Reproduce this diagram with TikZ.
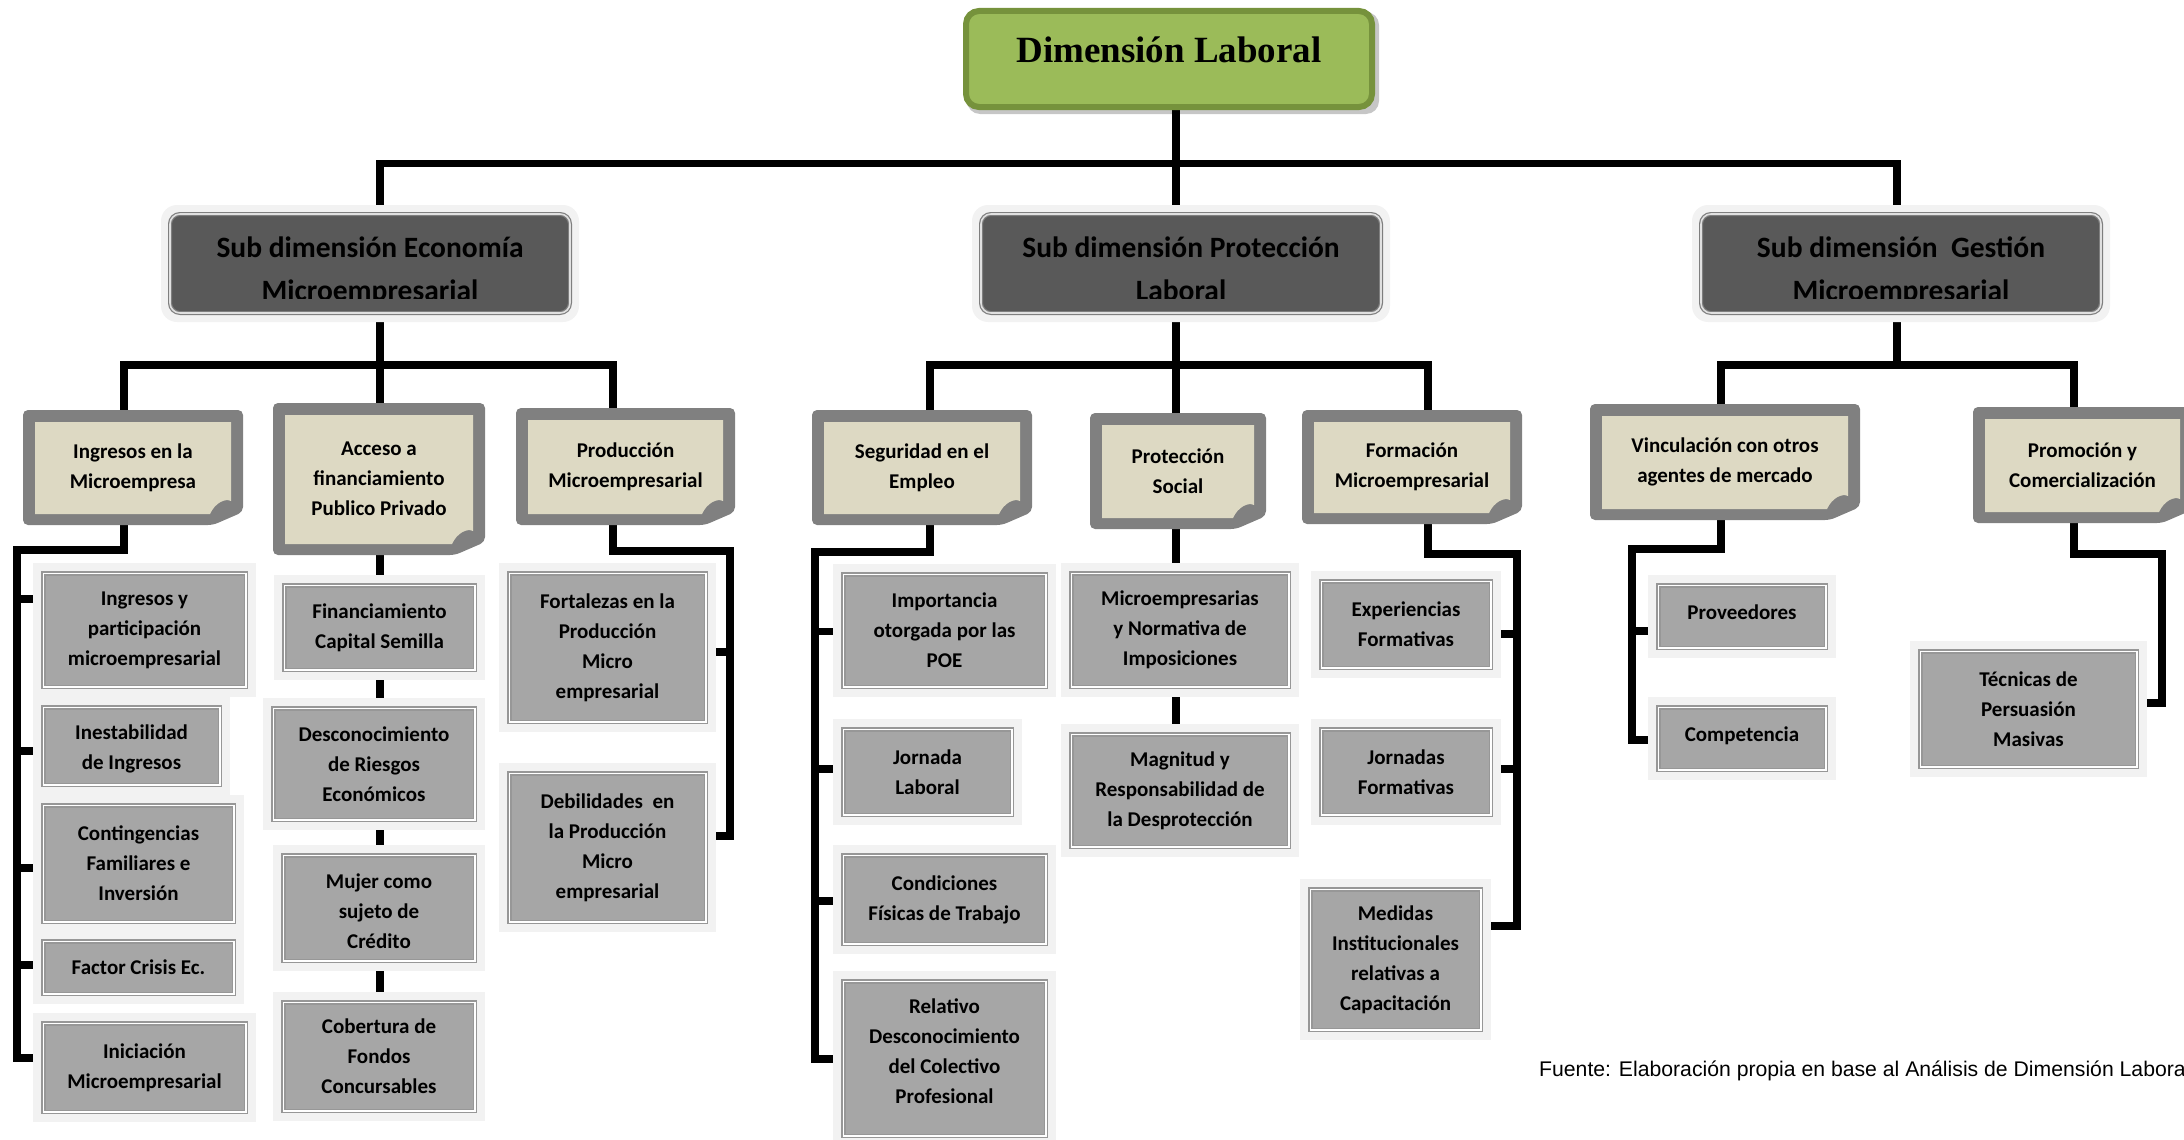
\documentclass[tikz,border=0pt]{standalone}
\usepackage{fontspec}
\setmainfont{Carlito}
\newfontfamily\titlefont{Liberation Serif}
\newfontfamily\sourcefont{Liberation Sans}
\usetikzlibrary{calc,backgrounds}

\definecolor{halo}{HTML}{F2F2F2}
\definecolor{leaffill}{HTML}{A6A6A6}
\definecolor{leafline}{HTML}{979797}
\definecolor{subfill}{HTML}{595959}
\definecolor{subline}{HTML}{7F7F7F}
\definecolor{notegray}{HTML}{808080}
\definecolor{notefill}{HTML}{DDD9C3}
\definecolor{topfill}{HTML}{9BBB59}
\definecolor{topline}{HTML}{76923C}

\begin{document}
\begin{tikzpicture}[x=1pt, y=-1pt,
  conn/.style={line width=7.5, draw=black, line join=miter},
  txt/.style={font=\bfseries\fontsize{21}{30}\selectfont, align=center},
  topbox/.style={rectangle, rounded corners=13, fill=topfill, draw=topline,
    line width=6, inner sep=0,
    font=\titlefont\bfseries\fontsize{37}{44}\selectfont},
  subbox/.style={rectangle, rounded corners=16, fill=halo, inner sep=0,
    minimum width=418, minimum height=117,
    path picture={\draw[subline, line width=1.2, double=white!88!black,
        double distance=1.6, fill=subfill, rounded corners=10]
      ($(path picture bounding box.north west)+(9,9)$) rectangle
      ($(path picture bounding box.south east)+(-9,-9)$);}},
  subtext/.style={font=\bfseries\fontsize{29.5}{43.5}\selectfont, inner sep=0, anchor=base},
  notebox/.style 2 args={rectangle, inner sep=0, txt,
    minimum width=#1, minimum height=#2,
    path picture={
      \coordinate (pa) at (path picture bounding box.north west);
      \coordinate (pb) at (path picture bounding box.south east);
      \fill[notegray, rounded corners=5] (pa) -- (pa -| pb) -- ($(pb)+(0,-13)$)
        -- ($(pb)+(-30,0)$) -- (pa |- pb) -- cycle;
      \fill[notefill] ($(pa)+(12,12)$) -- ($(pa -| pb)+(-12,12)$)
        -- ($(pb)+(-12,-24)$) .. controls ($(pb)+(-18,-27)$) and ($(pb)+(-28,-22)$)
        .. ($(pb)+(-33,-11)$) -- ($(pa |- pb)+(12,-11)$) -- cycle;}},
  leafbox/.style 2 args={rectangle, inner sep=0, fill=halo, txt,
    minimum width=#1+16, minimum height=#2+16,
    path picture={\draw[leafline, line width=1.5, double=white,
        double distance=1.5, fill=leaffill]
      ($(path picture bounding box.north west)+(10.25,10.25)$) rectangle
      ($(path picture bounding box.south east)+(-10.25,-10.25)$);}}
]
\useasboundingbox (0,0) rectangle (2184,1140);

% ---------- root ----------
\node[topbox, minimum width=406, minimum height=96, text height=27, text depth=19]
  (top) at (1169,59) {Dimensión Laboral};

% ---------- sub dimensions (second line cut by the text frame) ----------
\node[subbox] (eco) at (370,263.5) {};
\node[subbox] (pro) at (1181,263.5) {};
\node[subbox] (ges) at (1901,263.5) {};
\begin{scope}
  \clip (eco.north west) rectangle (ges.east |- 0,298.5);
  \node[subtext] (ecoT) at (370,300.5)
    {\begin{tabular}[b]{@{}c@{}}Sub dimensión Economía\\Microempresarial\end{tabular}};
  \node[subtext] (proT) at (1181,300.5)
    {\begin{tabular}[b]{@{}c@{}}Sub dimensión Protección\\Laboral\end{tabular}};
  \node[subtext] (gesT) at (1901,300.5)
    {\begin{tabular}[b]{@{}c@{}}Sub dimensión\ \ Gestión\\Microempresarial\end{tabular}};
\end{scope}

% ---------- categories ----------
\node[notebox={220}{115}] (ing)  at (133,467.5)  {Ingresos en la\\Microempresa};
\node[notebox={212}{152}] (acc)  at (379,479)    {Acceso a\\financiamiento\\Publico Privado};
\node[notebox={219}{117}] (prod) at (625.5,466.5) {Producción\\Microempresarial};
\node[notebox={220}{115}] (seg)  at (922,467.5)  {Seguridad en el\\Empleo};
\node[notebox={176}{116}] (soc)  at (1178,471)   {Protección\\Social};
\node[notebox={220}{114}] (frm)  at (1412,467)   {Formación\\Microempresarial};
\node[notebox={270}{116}] (vin)  at (1725,462)   {Vinculación con otros\\agentes de mercado};
\node[notebox={219}{116}] (prom) at (2082.5,465) {Promoción y\\Comercialización};

% ---------- leaves: economy ----------
\node[leafbox={207}{118}] (c11) at (144.5,630)   {Ingresos y\\participación\\microempresarial};
\node[leafbox={181}{82}]  (c12) at (131.5,746)   {};
\node[txt] (c12t) at ($(c12)+(0,3)$) {Inestabilidad\\de Ingresos};
\node[leafbox={195}{121}] (c13) at (138.5,863.5) {Contingencias\\Familiares e\\Inversión};
\node[leafbox={195}{57}]  (c14) at (138.5,967.5) {Factor Crisis Ec.};
\node[leafbox={207}{93}]  (c15) at (144.5,1067.5) {Iniciación\\Microempresarial};

\node[leafbox={195}{89}]  (c21) at (379.5,627.5) {Financiamiento\\Capital Semilla};
\node[leafbox={206}{116}] (c22) at (374,764)     {Desconocimiento\\de Riesgos\\Económicos};
\node[leafbox={196}{110}] (c23) at (379,908)     {};
\node[txt] (c23t) at ($(c23)+(0,3)$) {Mujer como\\sujeto de\\Crédito};
\node[leafbox={196}{113}] (c24) at (379,1056.5)  {Cobertura de\\Fondos\\Concursables};

\node[leafbox={201}{153}] (c31) at (607.5,647.5) {Fortalezas en la\\Producción\\Micro\\empresarial};
\node[leafbox={201}{153}] (c32) at (607.5,847.5) {Debilidades\ \ en\\la Producción\\Micro\\empresarial};

% ---------- leaves: protection ----------
\node[leafbox={207}{117}] (c41) at (944.5,630.5)  {Importancia\\otorgada por las\\POE};
\node[leafbox={173}{90}]  (c42) at (927.5,772)    {Jornada\\Laboral};
\node[leafbox={207}{93}]  (c43) at (944.5,899.5)  {Condiciones\\Físicas de Trabajo};
\node[leafbox={207}{159}] (c44) at (944.5,1058.5) {};
\node[txt] (c44t) at ($(c44)+(0,-7)$) {Relativo\\Desconocimiento\\del Colectivo\\Profesional};

\node[leafbox={222}{118}] (c51) at (1180,630)   {Microempresarias\\y Normativa de\\Imposiciones};
\node[leafbox={222}{117}] (c52) at (1180,790.5) {Magnitud y\\Responsabilidad de\\la Desprotección};

\node[leafbox={174}{91}]  (c61) at (1406,624.5)  {Experiencias\\Formativas};
\node[leafbox={174}{90}]  (c62) at (1406,772)    {Jornadas\\Formativas};
\node[leafbox={175}{145}] (c63) at (1395.5,959.5) {Medidas\\Institucionales\\relativas a\\Capacitación};

% ---------- leaves: management ----------
\node[leafbox={172}{67}]  (c71) at (1742,616.5) {};
\node[txt] (c71t) at ($(c71)+(0,-4)$) {Proveedores};
\node[leafbox={172}{67}]  (c72) at (1742,738.5) {};
\node[txt] (c72t) at ($(c72)+(0,-2.5)$) {Competencia};
\node[leafbox={221}{120}] (c81) at (2028.5,709) {Técnicas de\\Persuasión\\Masivas};

% ---------- source note ----------
\node[anchor=base west, inner sep=0, font=\sourcefont\fontsize{21.2}{25}\selectfont]
  (src) at (1539,1076) {Fuente: Elaboración propia en base al Análisis de Dimensión Labora};

% ---------- connectors ----------
\begin{scope}[on background layer]
  \fill[gray!45, rounded corners=13] ($(top.north west)+(4,4)$) rectangle ($(top.south east)+(4,4)$);

  % first level bus
  \coordinate (jE) at (380,163.5);
  \coordinate (j0) at (1176,163.5);
  \coordinate (jG) at (1897,163.5);
  \draw[conn] (top -| j0) -- (pro -| j0);
  \draw[conn] (eco -| jE) -- (jE) -- (jG) -- (ges -| jG);

  % second level buses
  \coordinate (e1) at (124,365);  \coordinate (e3) at (613,365);
  \coordinate (p1) at (930,365);  \coordinate (p3) at (1428,365);
  \coordinate (g1) at (1721,365); \coordinate (g2) at (2074,365);
  \draw[conn] (ing -| e1) -- (e1) -- (e3) -- (prod -| e3);
  \draw[conn] (eco -| jE) -- (c24 -| jE);
  \draw[conn] (seg -| p1) -- (p1) -- (p3) -- (frm -| p3);
  \draw[conn] (pro -| j0) -- (c52 -| j0);
  \draw[conn] (vin -| g1) -- (g1) -- (g2) -- (prom -| g2);
  \draw[conn] (ges -| jG) -- (jG |- g1);

  % brackets to the leaves
  \coordinate (ib1) at (124,550);  \coordinate (ib2) at (17,550);
  \coordinate (t11) at ($(c11.west)+(0,-31)$);
  \coordinate (t12) at ($(c12.west)+(0,5)$);
  \coordinate (t13) at ($(c13.west)+(0,4.5)$);
  \coordinate (t14) at ($(c14.west)+(0,-2.5)$);
  \coordinate (t15) at ($(c15.west)+(0,-9.5)$);
  \draw[conn] (ing -| e1) -- (ib1) -- (ib2) -- (t15 -| ib2) -- (t15);
  \foreach \t in {t11,t12,t13,t14} \draw[conn] (\t -| ib2) -- (\t);

  \coordinate (pb1) at (613,551);  \coordinate (pb2) at (730,551);
  \coordinate (t31) at ($(c31.east)+(0,4.5)$);
  \coordinate (t32) at ($(c32.east)+(0,-11.5)$);
  \draw[conn] (prod -| e3) -- (pb1) -- (pb2) -- (t32 -| pb2) -- (t32);
  \draw[conn] (t31 -| pb2) -- (t31);

  \coordinate (sb1) at (930,552);  \coordinate (sb2) at (815,552);
  \coordinate (t41) at ($(c41.west)+(0,1)$);
  \coordinate (t42) at ($(c42.west)+(0,-3)$);
  \coordinate (t43) at ($(c43.west)+(0,1.5)$);
  \coordinate (t44) at ($(c44.west)+(0,0.5)$);
  \draw[conn] (seg -| p1) -- (sb1) -- (sb2) -- (t44 -| sb2) -- (t44);
  \foreach \t in {t41,t42,t43} \draw[conn] (\t -| sb2) -- (\t);

  \coordinate (fb1) at (1428,554); \coordinate (fb2) at (1517,554);
  \coordinate (t61) at ($(c61.east)+(0,9.5)$);
  \coordinate (t62) at ($(c62.east)+(0,-3)$);
  \coordinate (t63) at ($(c63.east)+(0,-33.5)$);
  \draw[conn] (frm -| p3) -- (fb1) -- (fb2) -- (t63 -| fb2) -- (t63);
  \foreach \t in {t61,t62} \draw[conn] (\t -| fb2) -- (\t);

  \coordinate (vb1) at (1721,549); \coordinate (vb2) at (1632,549);
  \coordinate (t71) at ($(c71.west)+(0,14.5)$);
  \coordinate (t72) at ($(c72.west)+(0,1.5)$);
  \draw[conn] (vin -| g1) -- (vb1) -- (vb2) -- (t72 -| vb2) -- (t72);
  \draw[conn] (t71 -| vb2) -- (t71);

  \coordinate (mb1) at (2074,554); \coordinate (mb2) at (2162,554);
  \coordinate (t81) at ($(c81.east)+(0,-6)$);
  \draw[conn] (prom -| g2) -- (mb1) -- (mb2) -- (t81 -| mb2) -- (t81);
\end{scope}
\end{tikzpicture}
\end{document}
